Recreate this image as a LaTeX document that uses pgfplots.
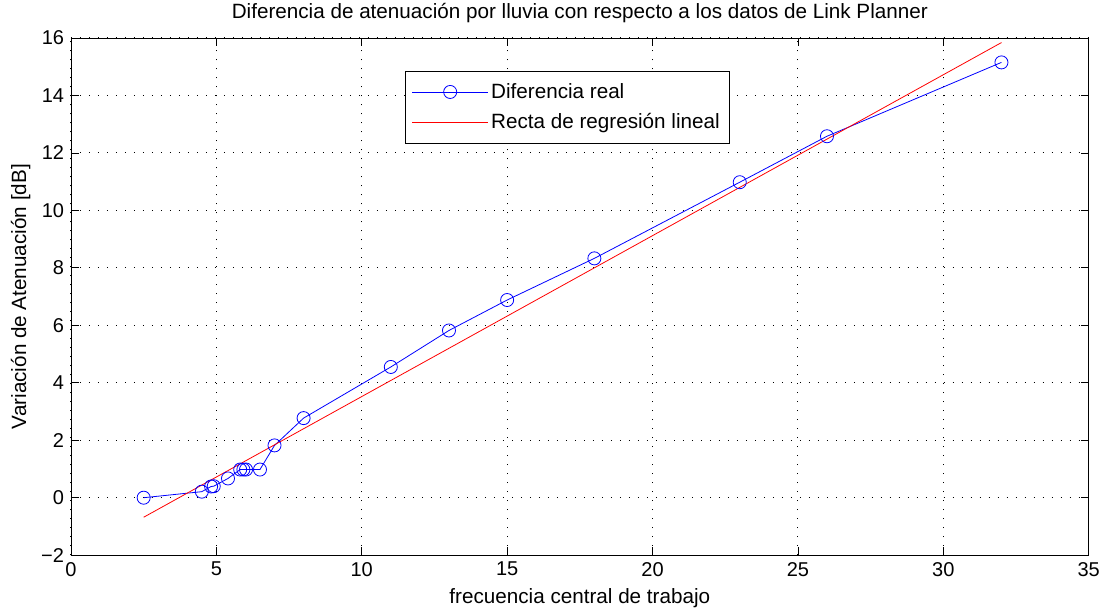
\documentclass[border=0pt]{standalone}
\usepackage{fontspec}
\setmainfont{Liberation Sans}
\usepackage{pgfplots}
\pgfplotsset{compat=1.18}
\usetikzlibrary{calc}

\begin{document}
\begin{tikzpicture}
\begin{axis}[
  scale only axis,
  width=763.5pt, height=388pt,
  xmin=0, xmax=35, ymin=-2, ymax=16,
  xtick={0,5,...,35},
  ytick={-2,0,...,16},
  yticklabels={−2,0,2,4,6,8,10,12,14,16},
  /pgf/number format/assume math mode=true,
  tick align=inside,
  tick pos=both,
  major tick length=6pt,
  grid=major,
  major grid style={black, dash pattern=on 0.75pt off 6pt, line width=0.75pt},
  axis line style={black, line width=0.6pt},
  every tick/.style={black, line width=0.6pt},
  tick label style={font=\fontsize{15}{17}\selectfont, inner sep=1pt},
  xticklabel style={yshift=-4pt},
  yticklabel style={xshift=-4pt},
  label style={font=\fontsize{15.5}{17}\selectfont, inner sep=0pt},
  every axis title shift=0pt,
  title style={font=\fontsize{15.5}{17}\selectfont, inner sep=0pt,
    at={(axis description cs:0.5,1.048)}, anchor=center},
  title={Diferencia de atenuación por lluvia con respecto a los datos de Link Planner},
  xlabel={frecuencia central de trabajo},
  ylabel={Variación de Atenuación [dB]},
  xlabel style={at={(axis description cs:0.5,-0.083)}, anchor=center},
  ylabel style={at={(axis description cs:-0.0495,0.5)}, anchor=center},
  legend style={at={(0.328,0.936)}, anchor=north west, draw=black, line width=0.6pt,
    font=\fontsize{15.5}{18}\selectfont, inner xsep=5pt, inner ysep=7pt,
    row sep=6pt},
  legend cell align=left,
  legend image code/.code={
    \path (0cm,0cm) -- (2.0cm,0cm);
    \draw[#1] (0.2cm,0cm) -- (1.8cm,0cm);
    \draw[#1, only marks] plot coordinates {(1.0cm,0cm)};
  },
  clip=false,
]
\addplot[blue, line width=0.6pt, mark=o, mark size=4.9pt, mark options={solid, line width=0.6pt}]
  coordinates {
  (2.5,0.0) (4.5,0.21) (4.82,0.39) (4.91,0.40) (5.4,0.67)
  (5.82,0.98) (5.93,0.98) (6.02,0.98) (6.5,0.98) (7.0,1.82)
  (8.0,2.77) (11.0,4.55) (13.0,5.82) (15.0,6.88) (18.0,8.33)
  (23.0,10.98) (26.0,12.58) (32.0,15.15)
  };
\addlegendentry{Diferencia real}
\addplot[red, line width=0.6pt, mark=none]
  coordinates {(2.5,-0.68) (32.0,15.84)};
\addlegendentry{Recta de regresión lineal}
\end{axis}
\path ($(current axis.south west)+(-53.25pt,-42.75pt)$) rectangle ($(current axis.north east)+(10pt,28.5pt)$);
\end{tikzpicture}
\end{document}
